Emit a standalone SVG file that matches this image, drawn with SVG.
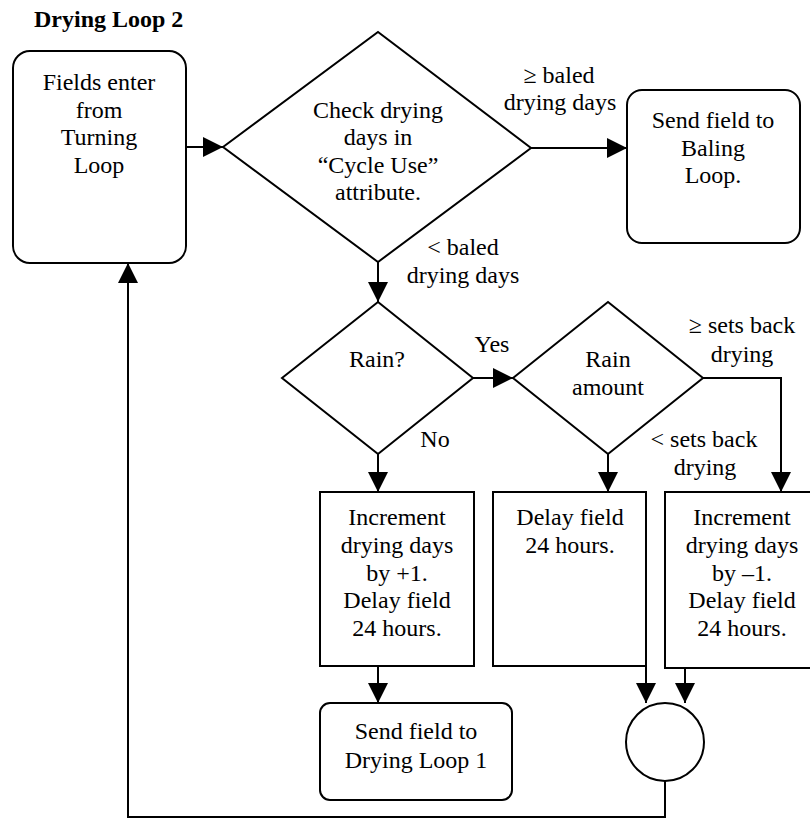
<svg xmlns="http://www.w3.org/2000/svg" width="810" height="820" viewBox="0 0 810 820">
<defs>
<marker id="arr" markerUnits="userSpaceOnUse" markerWidth="20" markerHeight="20" refX="20" refY="10" orient="auto">
<path d="M0,0 L20,10 L0,20 z" fill="#000"/>
</marker>
<style>
.s{fill:#fff;stroke:#000;stroke-width:2}
.t{font-family:"Liberation Serif","Times New Roman",serif;font-size:24px;fill:#000;text-anchor:middle}
.c{fill:none;stroke:#000;stroke-width:2;marker-end:url(#arr)}
</style>
</defs>
<rect width="810" height="820" fill="#fff"/>
<text x="34" y="27" style="font-family:'Liberation Serif','Times New Roman',serif;font-size:24px;font-weight:bold">Drying Loop 2</text>

<g id="connectors">
<path class="c" d="M186,147 L223,147"/>
<path class="c" d="M531,148 L627,148"/>
<path class="c" d="M378,262 L378,302"/>
<path class="c" d="M473,378 L513,378"/>
<path class="c" d="M703,378 L781,378 L781,492"/>
<path class="c" d="M378,454 L378,492"/>
<path class="c" d="M608,454 L608,492"/>
<path class="c" d="M378,666 L378,703"/>
<path class="c" d="M646,666 L646,703"/>
<path class="c" d="M685,668 L685,703"/>
<path class="c" d="M665,781 L665,817 L128,817 L128,263"/>
<text class="t" x="559" y="83">≥ baled</text>
<text class="t" x="560" y="110">drying days</text>
<text class="t" x="463" y="255">&lt; baled</text>
<text class="t" x="463" y="283">drying days</text>
<text class="t" x="492" y="352">Yes</text>
<text class="t" x="435" y="447">No</text>
<text class="t" x="742" y="333">≥ sets back</text>
<text class="t" x="742" y="362">drying</text>
<text class="t" x="704" y="447">&lt; sets back</text>
<text class="t" x="705" y="475">drying</text>
</g>

<g id="fields">
<rect class="s" x="13" y="51" width="173" height="212" rx="17"/>
<text class="t" x="99" y="90">Fields enter</text>
<text class="t" x="99" y="118">from</text>
<text class="t" x="99" y="145">Turning</text>
<text class="t" x="99" y="173">Loop</text>
</g>

<g id="check">
<polygon class="s" points="223,147 378,32 531,148 378,262"/>
<text class="t" x="378" y="118">Check drying</text>
<text class="t" x="378" y="145">days in</text>
<text class="t" x="378" y="173">“Cycle Use”</text>
<text class="t" x="378" y="200">attribute.</text>
</g>

<g id="baling">
<rect class="s" x="627" y="90" width="173" height="153" rx="15"/>
<text class="t" x="713" y="128">Send field to</text>
<text class="t" x="713" y="156">Baling</text>
<text class="t" x="713" y="183">Loop.</text>
</g>

<g id="rain">
<polygon class="s" points="282,378 378,302 473,378 378,454"/>
<text class="t" x="377" y="367">Rain?</text>
</g>

<g id="amount">
<polygon class="s" points="513,378 608,302 703,378 608,454"/>
<text class="t" x="608" y="367">Rain</text>
<text class="t" x="608" y="395">amount</text>
</g>

<g id="inc1">
<rect class="s" x="320" y="492" width="154" height="174"/>
<text class="t" x="397" y="525">Increment</text>
<text class="t" x="397" y="553">drying days</text>
<text class="t" x="397" y="581">by +1.</text>
<text class="t" x="397" y="608">Delay field</text>
<text class="t" x="397" y="636">24 hours.</text>
</g>

<g id="delay">
<rect class="s" x="493" y="492" width="153" height="174"/>
<text class="t" x="570" y="525">Delay field</text>
<text class="t" x="570" y="553">24 hours.</text>
</g>

<g id="dec1">
<rect class="s" x="665" y="492" width="150" height="176"/>
<text class="t" x="742" y="525">Increment</text>
<text class="t" x="742" y="553">drying days</text>
<text class="t" x="742" y="581">by –1.</text>
<text class="t" x="742" y="608">Delay field</text>
<text class="t" x="742" y="636">24 hours.</text>
</g>

<g id="loop1">
<rect class="s" x="320" y="703" width="192" height="97" rx="10"/>
<text class="t" x="416" y="739">Send field to</text>
<text class="t" x="416" y="768">Drying Loop 1</text>
</g>

<g id="merge">
<circle class="s" cx="665" cy="742" r="39"/>
</g>
</svg>
